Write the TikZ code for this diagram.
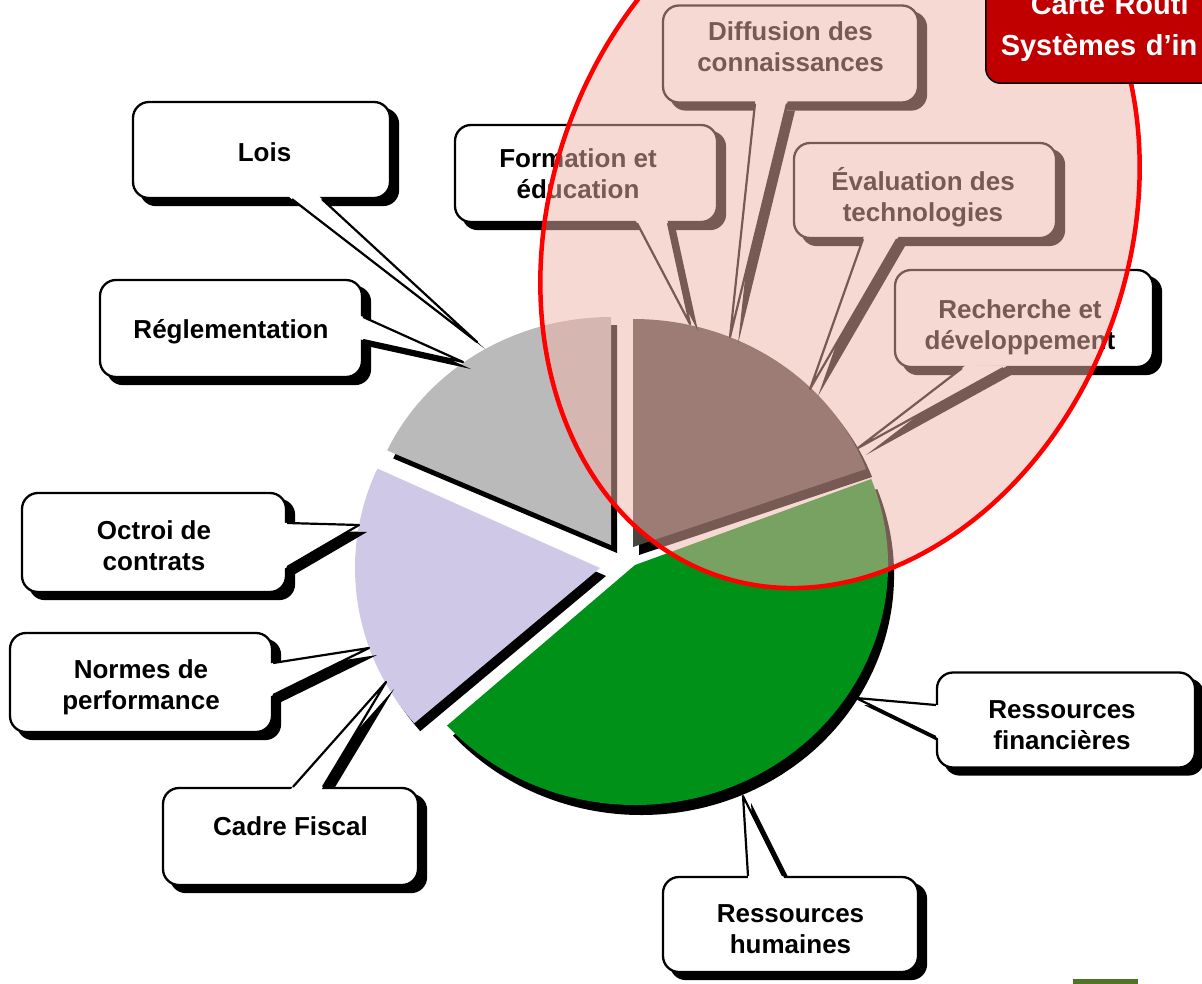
\documentclass[tikz,border=0pt]{standalone}
\usepackage{fontspec}
\setmainfont{Liberation Sans}
\usetikzlibrary{calc}
\pgfdeclarelayer{pie}
\pgfdeclarelayer{shadow}
\pgfdeclarelayer{over}
\pgfdeclarelayer{top}
\pgfsetlayers{pie,shadow,main,over,top}
\definecolor{piegray}{RGB}{186,186,186}
\definecolor{piedark}{RGB}{72,68,62}
\definecolor{pielav}{RGB}{207,200,230}
\definecolor{piegreen}{RGB}{0,145,25}
\definecolor{veil}{RGB}{240,180,170}
\definecolor{boxred}{RGB}{192,0,0}
\definecolor{olivebar}{RGB}{80,115,40}
\tikzset{
  callout/.style={draw=black, line width=2.3pt, fill=white, rounded corners=16pt,
    align=center, inner sep=0pt, font=\fontsize{26}{31}\selectfont\bfseries},
  cline/.style={draw=black, line width=2.2pt, line join=round},
}
\newcommand\st[1]{\rule{0pt}{#1}}
\newcommand\slicepath[6]{\fill[#6] (#1) -- ++({#4*cos(#2)},{-#5*sin(#2)}) arc[start angle={-#2}, end angle={-#3}, x radius=#4, y radius=#5] -- cycle;}
\newcommand\boxshadow[1]{\begin{pgfonlayer}{shadow}\fill[black, rounded corners=16pt] ([shift={(8pt,-7pt)}]#1.north west) rectangle ([shift={(8pt,-7pt)}]#1.south east);\end{pgfonlayer}}
\newcommand\pointer[3]{%
  \begin{pgfonlayer}{shadow}
    \fill[black] ([shift={(8pt,-7pt)}]#1) -- ([shift={(8pt,-7pt)}]#3) -- ([shift={(8pt,-7pt)}]#2) -- cycle;
  \end{pgfonlayer}
  \fill[white] ($(#1)!-5pt!(#3)$) -- (#3) -- ($(#2)!-5pt!(#3)$) -- cycle;
  \draw[cline] (#1) -- (#3) -- (#2);
}
\begin{document}
\begin{tikzpicture}[x=1pt, y={(0pt,-1pt)}]
\useasboundingbox (0,0) rectangle (1202,984);

% ---------------- pie ----------------
\begin{pgfonlayer}{pie}
  \slicepath{611,545}{90}{155.5}{246}{228}{black, shift={(6,8)}}
  \slicepath{633,547}{20}{90}{248}{228}{black, shift={(6,8)}}
  \slicepath{600,568}{155.3}{220.7}{245}{238}{black, shift={(6,8)}}
  \slicepath{635,565}{21}{-138}{253}{240}{black, shift={(6,10)}}
  \slicepath{611,545}{90}{155.5}{246}{228}{piegray}
  \slicepath{633,547}{20}{90}{248}{228}{piedark}
  \slicepath{600,568}{155.3}{220.7}{245}{238}{pielav}
  \slicepath{635,565}{21}{-138}{253}{240}{piegreen}
\end{pgfonlayer}

% ---------------- callouts ----------------
\node[callout, minimum width=257pt, minimum height=96pt] (lois) at (261.5,150) {\st{23pt}\kern6pt Lois};
\node[callout, minimum width=262pt, minimum height=97pt] (regl) at (231,328.5) {\st{25pt}Réglementation};
\node[callout, minimum width=262pt, minimum height=97pt] (form) at (586,173.5) {Formation et\kern16pt\\éducation\kern16pt};
\node[callout, minimum width=255pt, minimum height=97pt] (diff) at (790.5,54) {Diffusion des\\connaissances\\[-17pt]\mbox{}};
\node[callout, minimum width=262pt, minimum height=95pt] (eval) at (925,190.5) {\st{36pt}Évaluation des\kern4pt\\technologies\kern4pt};
\node[callout, minimum width=258pt, minimum height=97pt] (rech) at (1024,318.5) {\st{36pt}Recherche et\kern8pt\\développement\kern8pt};
\node[callout, minimum width=264pt, minimum height=99pt] (octroi) at (154,542.5) {\st{26pt}Octroi de\\contrats};
\node[callout, minimum width=262pt, minimum height=99pt] (normes) at (141,682.5) {\st{28pt}Normes de\\performance};
\node[callout, minimum width=255pt, minimum height=97pt] (cadre) at (290.5,836.5) {Cadre Fiscal\\[-10pt]\mbox{}};
\node[callout, minimum width=258pt, minimum height=95pt] (rfin) at (1066,720) {\st{28pt}Ressources\kern8pt\\financières\kern8pt};
\node[callout, minimum width=255pt, minimum height=95pt] (rhum) at (790.5,924.5) {\st{27pt}Ressources\\humaines};

\foreach \n in {lois,regl,form,diff,eval,rech,octroi,normes,cadre,rfin,rhum}{\boxshadow{\n}}

% pointer base points and tips
\coordinate (lois1) at ([xshift=30.5pt]lois.south);
\coordinate (lois2) at ([xshift=60.5pt]lois.south);
\coordinate (loisT) at (477,342);
\coordinate (regl1) at ([yshift=11.5pt]regl.east);
\coordinate (regl2) at ([yshift=-11.5pt]regl.east);
\coordinate (reglT) at (463,362);
\coordinate (form1) at ([xshift=51pt]form.south);
\coordinate (form2) at ([xshift=82pt]form.south);
\coordinate (formT) at (690,324);
\coordinate (diff1) at ([xshift=-35.5pt]diff.south);
\coordinate (diff2) at ([xshift=-3.5pt]diff.south);
\coordinate (diffT) at (730,337);
\coordinate (eval1) at ([xshift=-62pt]eval.south);
\coordinate (eval2) at ([xshift=-28pt]eval.south);
\coordinate (evalT) at (810,389);
\coordinate (rech1) at ([xshift=-62pt]rech.south);
\coordinate (rech2) at ([xshift=-21pt]rech.south);
\coordinate (rechT) at (858,448);
\coordinate (octroi1) at ([yshift=19.5pt]octroi.east);
\coordinate (octroi2) at ([yshift=-24.5pt]octroi.east);
\coordinate (octroiT) at (359,525);
\coordinate (normes1) at ([yshift=19.5pt]normes.east);
\coordinate (normes2) at ([yshift=-12.5pt]normes.east);
\coordinate (normesT) at (369,648);
\coordinate (cadre1) at ([xshift=2.5pt]cadre.north);
\coordinate (cadre2) at ([xshift=32.5pt]cadre.north);
\coordinate (cadreT) at (386,682);
\coordinate (rfin1) at ([yshift=15pt]rfin.west);
\coordinate (rfin2) at ([yshift=-17pt]rfin.west);
\coordinate (rfinT) at (856,698);
\coordinate (rhum1) at ([xshift=-42.5pt]rhum.north);
\coordinate (rhum2) at ([xshift=-7.5pt]rhum.north);
\coordinate (rhumT) at (743,796);

\foreach \n in {lois,regl,form,diff,eval,rech,octroi,normes,cadre,rfin,rhum}{\pointer{\n1}{\n2}{\n T}}

\fill[olivebar] (1073,979) rectangle (1138,990);

% ---------------- highlight ellipse ----------------
\begin{pgfonlayer}{over}
  \fill[veil, opacity=0.5, rotate around={-19.8:(840,225)}] (840,225) ellipse [x radius=289, y radius=371.5];
  \draw[red, line width=4.5pt, rotate around={-19.8:(840,225)}] (840,225) ellipse [x radius=289, y radius=371.5];
\end{pgfonlayer}

% ---------------- title box ----------------
\begin{pgfonlayer}{top}
  \node[draw=black, line width=1.5pt, fill=boxred, rounded corners=15pt, anchor=south west,
        minimum height=112pt, text width=250pt, align=left, inner xsep=15pt, inner ysep=0pt,
        text=white, font=\fontsize{29}{38}\selectfont\bfseries] (title) at (985,84)
        {\hspace*{30pt}Carte Routi\\[3pt]Systèmes d’in};
\end{pgfonlayer}
\end{tikzpicture}
\end{document}
